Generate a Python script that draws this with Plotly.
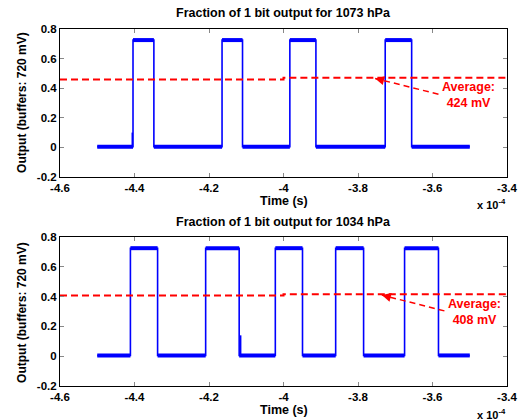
"""
Two stacked square-wave traces (1 bit output) with their average level
"""
import plotly.graph_objects as go

# --- data (time in units of 1e-4 s) ---
t_start = -4.5
t_end = -3.5
low_level = 0.005
high_level = 0.725

# top plot: 1073 hPa
top_rise = [-4.404, -4.165, -3.983, -3.727]
top_fall = [-4.348, -4.110, -3.913, -3.656]
top_glitch_t = [-4.406]
top_glitch_v = [0.10]
top_avg_t = [-4.6, -4.0, -4.0, -3.4]
top_avg_v = [0.459, 0.459, 0.470, 0.470]

# bottom plot: 1034 hPa
bot_rise = [-4.411, -4.209, -4.022, -3.860, -3.675]
bot_fall = [-4.338, -4.119, -3.949, -3.785, -3.584]
bot_glitch_t = [-4.115]
bot_glitch_v = [0.14]
bot_avg_t = [-4.6, -4.0, -4.0, -3.4]
bot_avg_v = [0.408, 0.408, 0.416, 0.416]

x_ticks = [-4.6, -4.4, -4.2, -4.0, -3.8, -3.6, -3.4]
x_labels = ["-4.6", "-4.4", "-4.2", "-4", "-3.8", "-3.6", "-3.4"]
y_ticks = [-0.2, 0, 0.2, 0.4, 0.6, 0.8]
y_labels = ["-0.2", "0", "0.2", "0.4", "0.6", "0.8"]

titles = ["Fraction of 1 bit output for 1073 hPa", "Fraction of 1 bit output for 1034 hPa"]
avg_labels = ["Average:<br>424 mV", "Average:<br>408 mV"]

BLUE = "#0000ff"
RED = "#ff0000"
FONT = "Liberation Sans"


def step_wave(rises, falls):
    """Full waveform and the flat (noisy) level segments"""
    xs, ys = [t_start], [low_level]
    for r, f in zip(rises, falls):
        xs += [r, r, f, f]
        ys += [low_level, high_level, high_level, low_level]
    xs.append(t_end)
    ys.append(low_level)
    # flat segments only, separated by None
    lx, ly = [], []
    for i in range(0, len(xs) - 1, 2):
        lx += [xs[i], xs[i + 1], None]
        ly += [ys[i], ys[i + 1], None]
    return xs, ys, lx, ly


fig = go.Figure()

panels = [
    (top_rise, top_fall, top_glitch_t, top_glitch_v, top_avg_t, top_avg_v, "x", "y"),
    (bot_rise, bot_fall, bot_glitch_t, bot_glitch_v, bot_avg_t, bot_avg_v, "x2", "y2"),
]

for rises, falls, gt, gv, at, av, xa, ya in panels:
    xs, ys, lx, ly = step_wave(rises, falls)
    fig.add_trace(go.Scatter(x=xs, y=ys, mode="lines", xaxis=xa, yaxis=ya,
                             line=dict(color=BLUE, width=1.6), showlegend=False))
    fig.add_trace(go.Scatter(x=lx, y=ly, mode="lines", xaxis=xa, yaxis=ya,
                             line=dict(color=BLUE, width=4), showlegend=False))
    for t, v in zip(gt, gv):
        fig.add_trace(go.Scatter(x=[t, t], y=[low_level, v], mode="lines", xaxis=xa, yaxis=ya,
                                 line=dict(color=BLUE, width=1.5), showlegend=False))
    fig.add_trace(go.Scatter(x=at, y=av, mode="lines", xaxis=xa, yaxis=ya,
                             line=dict(color=RED, width=2, dash="7px,4px"), showlegend=False))

axis_style = dict(
    showgrid=False, zeroline=False, showline=True, linecolor="black", linewidth=1,
    mirror="ticks", ticks="inside", ticklen=4, tickcolor="#888",
    tickfont=dict(family=FONT, size=11.5, color="black", weight="bold"),
)

fig.update_layout(
    width=524, height=420,
    margin=dict(l=0, r=0, t=0, b=0, autoexpand=False),
    paper_bgcolor="white", plot_bgcolor="white",
    xaxis=dict(domain=[0.1145, 0.9676], range=[-4.6, -3.4], anchor="y",
               tickvals=x_ticks, ticktext=x_labels, **axis_style),
    yaxis=dict(domain=[0.5786, 0.9310], range=[-0.2, 0.8], anchor="x",
               tickvals=y_ticks, ticktext=y_labels, **axis_style),
    xaxis2=dict(domain=[0.1145, 0.9676], range=[-4.6, -3.4], anchor="y2",
                tickvals=x_ticks, ticktext=x_labels, **axis_style),
    yaxis2=dict(domain=[0.0810, 0.4357], range=[-0.2, 0.8], anchor="x2",
                tickvals=y_ticks, ticktext=y_labels, **axis_style),
)

bold = dict(family=FONT, size=12.5, color="black", weight="bold")
red_bold = dict(family=FONT, size=12.5, color=RED, weight="bold")

# arrows: head on the average line, tail near the label
arrow_head = [(-3.754, 0.466), (-3.736, 0.410)]
arrow_tail = [(-3.584, 0.359), (-3.568, 0.304)]
label_pos = [(-3.503, 0.354), (-3.488, 0.297)]

title_y = [0.969, 0.472]
time_y = [0.521, 0.024]
exp_y = [0.514, 0.014]
ytitle_y = [0.755, 0.255]

centered = dict(xref="paper", yref="paper", xanchor="center", yanchor="middle", showarrow=False)

for i, (xa, ya) in enumerate([("x", "y"), ("x2", "y2")]):
    fig.add_annotation(text=titles[i], x=0.541, y=title_y[i], font=bold, **centered)
    fig.add_annotation(text="Time (s)", x=0.542, y=time_y[i], font=bold, **centered)
    fig.add_annotation(text="x 10<sup>-4</sup>", x=0.906, y=exp_y[i], xref="paper", yref="paper",
                       xanchor="left", yanchor="middle", showarrow=False,
                       font=dict(family=FONT, size=11, color="black", weight="bold"))
    fig.add_annotation(text="Output (buffers: 720 mV)", x=0.042, y=ytitle_y[i],
                       textangle=-90, font=dict(bold, size=12), **centered)
    # dashed arrow shaft
    hx, hy = arrow_head[i]
    tx, ty = arrow_tail[i]
    fig.add_shape(type="line", x0=tx, y0=ty, x1=hx, y1=hy, xref=xa, yref=ya,
                  line=dict(color=RED, width=1.5, dash="6px,4px"))
    # arrowhead only
    fig.add_annotation(x=hx, y=hy, ax=hx + (tx - hx) * 0.12, ay=hy + (ty - hy) * 0.12,
                       xref=xa, yref=ya, axref=xa, ayref=ya, text="",
                       showarrow=True, arrowhead=2, arrowsize=1.2, arrowwidth=1.5, arrowcolor=RED)
    lx, ly = label_pos[i]
    fig.add_annotation(text=avg_labels[i], x=lx, y=ly, xref=xa, yref=ya,
                       xanchor="center", yanchor="middle", showarrow=False, font=red_bold)

fig.write_html("out.html", config={"displayModeBar": False},
               post_script="document.body.style.margin='0px';")
